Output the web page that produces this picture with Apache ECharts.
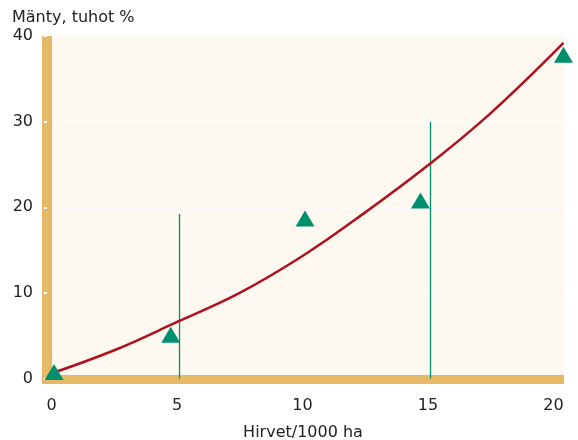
<!DOCTYPE html>
<html>
<head>
<meta charset="utf-8">
<script src="https://cdn.jsdelivr.net/npm/echarts@6/dist/echarts.min.js"></script>
<style>html,body{margin:0;padding:0;background:#fff;}#c{width:578px;height:440px;}</style>
</head>
<body>
<div id="c"></div>
<script>
// Data
const xTicks = [0, 5, 10, 15, 20];
const yTicks = [0, 10, 20, 30, 40];
const curveX = [-0.1, 2.5, 5, 7.5, 10, 12.5, 15, 17.5, 20.4];
const curveY = [0.5, 3.3, 6.6, 10.0, 14.3, 19.4, 24.9, 31.0, 39.2];
const obsX = [0.1, 4.75, 10.1, 14.7, 20.4];
const obsY = [0.75, 5.1, 18.7, 20.8, 37.8];
const rangeA = [[5.1, 0], [5.1, 19.2]];
const rangeB = [[15.1, 0], [15.1, 30.0]];

const FONT = 'DejaVu Sans';
const chart = echarts.init(document.getElementById('c'), null, {renderer: 'canvas'});
const option = {
  animation: false,
  backgroundColor: '#ffffff',
  textStyle: {fontFamily: FONT},
  title: {
    text: 'Mänty, tuhot %',
    left: 7, top: 5,
    textStyle: {fontFamily: FONT, fontSize: 16, fontWeight: 'normal', color: '#222'}
  },
  grid: {
    left: 42, right: 14, top: 36, bottom: 61.5,
    containLabel: false,
    outerBoundsMode: 'none',
    show: true, backgroundColor: '#FDF8F0', borderWidth: 0
  },
  xAxis: {
    type: 'value',
    min: -0.38, max: 20.42,
    offset: 1,
    name: 'Hirvet/1000 ha',
    nameLocation: 'middle',
    nameGap: 45,
    nameTextStyle: {fontFamily: FONT, fontSize: 16, color: '#222'},
    axisLine: {show: true, onZero: false, lineStyle: {color: '#E6B966', width: 9, cap: 'butt'}},
    axisTick: {show: false, customValues: xTicks},
    axisLabel: {customValues: xTicks, margin: 18, fontFamily: FONT, fontSize: 16, color: '#222'},
    splitLine: {show: false}
  },
  yAxis: {
    type: 'value',
    min: 0, max: 40, interval: 10,
    offset: -5,
    axisLine: {show: true, onZero: false, lineStyle: {color: '#E6B966', width: 10, cap: 'butt'}},
    axisTick: {show: true, length: 3, inside: false, lineStyle: {color: '#ffffff', width: 2}},
    axisLabel: {margin: 14, fontFamily: FONT, fontSize: 16, color: '#222'},
    splitLine: {show: true, lineStyle: {color: '#ffffff', width: 1.5}}
  },
  series: [
    {
      type: 'line', data: rangeA, symbol: 'none', silent: true,
      lineStyle: {color: '#00906C', width: 1.3}, z: 3
    },
    {
      type: 'line', data: rangeB, symbol: 'none', silent: true,
      lineStyle: {color: '#00906C', width: 1.3}, z: 3
    },
    {
      type: 'line', smooth: 0.4, symbol: 'none', clip: false,
      data: curveX.map((x, i) => [x, curveY[i]]),
      lineStyle: {color: '#B0101C', width: 2.5}, z: 4
    },
    {
      type: 'scatter', symbol: 'triangle', symbolSize: [19, 16], clip: false,
      data: obsX.map((x, i) => [x, obsY[i]]),
      itemStyle: {color: '#00906C', opacity: 1}, z: 5
    }
  ]
};
chart.setOption(option);
</script>
</body>
</html>
